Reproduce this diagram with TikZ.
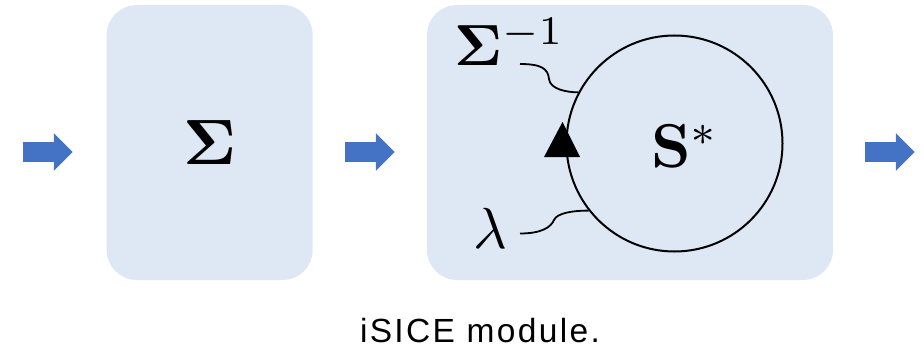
\documentclass[tikz,border=0pt]{standalone}
\usepackage{graphicx}
\usepackage[no-math]{fontspec}
\usetikzlibrary{shapes.arrows}
\newfontfamily\capfont[LetterSpace=7]{Liberation Sans}
\definecolor{panelfill}{HTML}{DEE8F5}
\definecolor{flowblue}{HTML}{4472C4}
\newcommand{\enlargedmath}[2][5.8]{\scalebox{#1}{#2}}
\tikzset{
  panel/.style={fill=panelfill, rounded corners=30pt, inner sep=0pt},
  flowarrow/.style={single arrow, fill=flowblue, draw=none, anchor=tail,
    inner xsep=0pt, inner ysep=9.7pt, minimum height=49.5pt,
    single arrow head extend=9pt, single arrow tip angle=90},
  bigmath/.style={inner sep=0pt},
  wire/.style={line width=1.8pt, black},
}
\begin{document}
\begin{tikzpicture}[x=1pt, y=-1pt]
  \useasboundingbox (0,0) rectangle (924,353);

  % covariance block and the iSICE block
  \node[panel, minimum width=206pt, minimum height=275pt] (cov) at (209.7,142.5)
    {\enlargedmath[6.4]{$\mathbf{\Sigma}$}};
  \node[panel, minimum width=406pt, minimum height=275pt] (isice) at (630,142.5) {};

  % block arrows between the stages
  \node[flowarrow] (arrin)  at (23,152)  {};
  \node[flowarrow] (arrmid) at (345,152) {};
  \node[flowarrow] (arrout) at (865,152) {};

  % the fixed-point loop
  \node[draw, circle, line width=2pt, minimum size=216pt, inner sep=0pt] (sol) at (674.5,143.5) {};
  \node[bigmath, anchor=base west] (sstar) at (651,167.5) {\enlargedmath[6.2]{$\mathbf{S}^*$}};
  \node[bigmath, anchor=base west] (sinv) at (454,66) {\enlargedmath{$\mathbf{\Sigma}^{-1}$}};
  \node[bigmath, anchor=base west] (lam) at (473,248) {\enlargedmath{$\lambda$}};

  % direction of the loop
  \fill ([shift={(-3,-21.5)}]sol.west) -- ([shift={(-21.5,13.5)}]sol.west)
    -- ([shift={(14.5,13.5)}]sol.west) -- cycle;

  % inputs fed into the loop
  \coordinate (sinvwire) at (520,64);
  \coordinate (sinvkink) at (549,79);
  \coordinate (lamwire) at (520,233.5);
  \coordinate (lamkink) at (554,220);
  \draw[wire] (sinvwire) .. controls +(22,0) and +(-1,-10) .. (sinvkink)
    .. controls +(1,10) and +(-12,0) .. (sol.152);
  \draw[wire] (lamwire) .. controls +(22,0) and +(-3,7) .. (lamkink)
    .. controls +(3,-7) and +(-16,0) .. (sol.218);

  % caption
  \node[inner sep=0pt, anchor=base] (caption) at (480,342)
    {\fontsize{33.5}{38}\selectfont\capfont iSICE module.};
\end{tikzpicture}
\end{document}
